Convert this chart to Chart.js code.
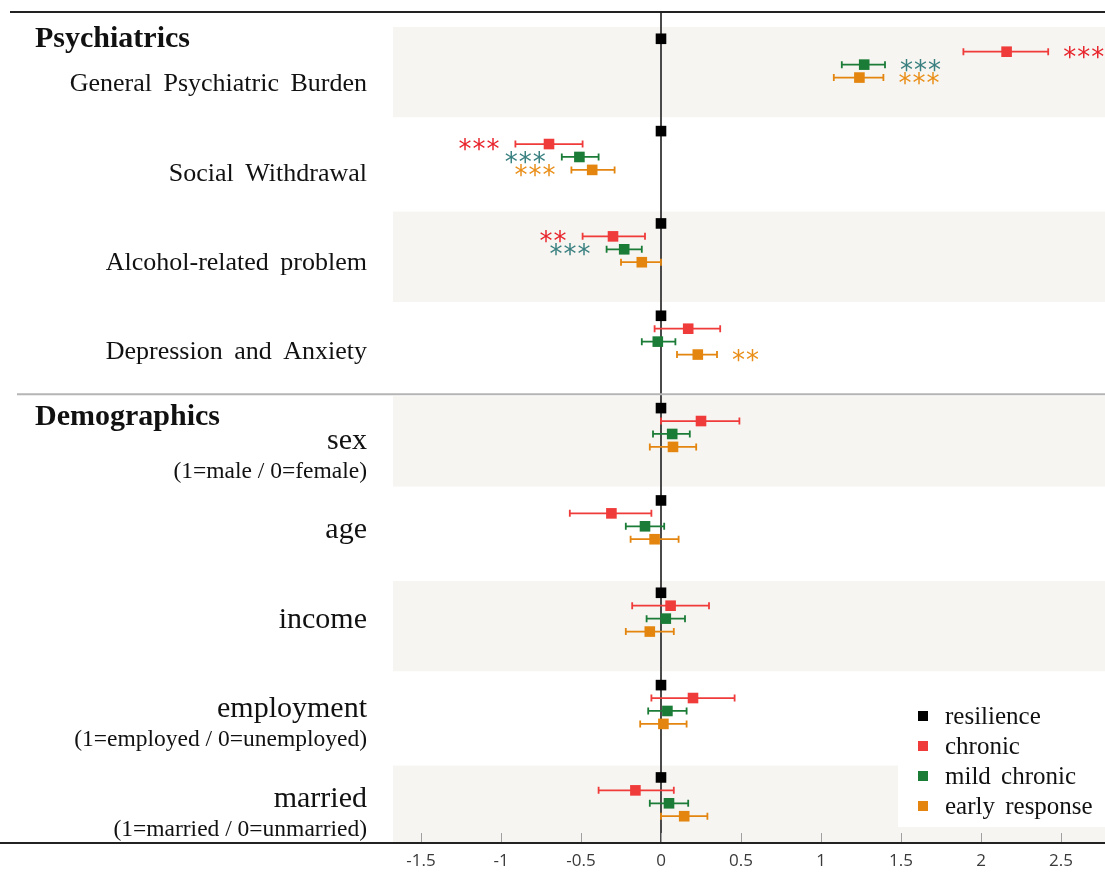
<!DOCTYPE html>
<html>
<head>
<meta charset="utf-8">
<title>Forest plot</title>
<script src="https://cdn.jsdelivr.net/npm/chart.js@4.4.1/dist/chart.umd.min.js"></script>
<style>
  body { margin: 0; background: #fff; }
  #wrap { width: 1105px; height: 874px; position: relative; }
</style>
</head>
<body>
<div id="wrap"><canvas id="forest"></canvas></div>
<script>
// rows, top to bottom
var categories = ["General Psychiatric Burden", "Social Withdrawal", "Alcohol-related problem", "Depression and Anxiety",
                  "sex", "age", "income", "employment", "married"];
var subLabels = ["", "", "", "", "(1=male / 0=female)", "", "", "(1=employed / 0=unemployed)", "(1=married / 0=unmarried)"];
var sections = ["Psychiatrics", "Demographics"];
var groups = ["resilience", "chronic", "mild chronic", "early response"];
var xTicks = [-1.5, -1, -0.5, 0, 0.5, 1, 1.5, 2, 2.5];

// resilience is the reference group
var resilience = [0, 0, 0, 0, 0, 0, 0, 0, 0];

var chronic     = [2.16, -0.70, -0.30, 0.17, 0.25, -0.31, 0.06, 0.20, -0.16];
var chronicLow  = [1.89, -0.91, -0.49, -0.04, 0.00, -0.57, -0.18, -0.06, -0.39];
var chronicHigh = [2.42, -0.49, -0.10, 0.37, 0.49, -0.06, 0.30, 0.46, 0.08];
var chronicStars = ["***", "***", "**", "", "", "", "", "", ""];

var mild     = [1.27, -0.51, -0.23, -0.02, 0.07, -0.10, 0.03, 0.04, 0.05];
var mildLow  = [1.13, -0.62, -0.34, -0.12, -0.05, -0.22, -0.09, -0.08, -0.07];
var mildHigh = [1.40, -0.39, -0.12, 0.09, 0.18, 0.02, 0.15, 0.16, 0.17];
var mildStars = ["***", "***", "***", "", "", "", "", "", ""];

var early     = [1.24, -0.43, -0.12, 0.23, 0.075, -0.04, -0.07, 0.015, 0.145];
var earlyLow  = [1.08, -0.56, -0.25, 0.10, -0.07, -0.19, -0.22, -0.13, 0.00];
var earlyHigh = [1.39, -0.29, 0.00, 0.35, 0.22, 0.11, 0.08, 0.16, 0.29];
var earlyStars = ["***", "***", "", "**", "", "", "", "", ""];

var colors = ["#000000", "#f03b3b", "#1b7c37", "#e3850f"];
var starColors = ["#000000", "#e8232b", "#3a8080", "#e98e18"];
var rowOffset = [-0.21, -0.07, 0.07, 0.21];   // vertical spread of the 4 groups inside a row

var series = [
    { est: resilience, low: null, high: null, stars: null },
    { est: chronic, low: chronicLow, high: chronicHigh, stars: chronicStars },
    { est: mild, low: mildLow, high: mildHigh, stars: mildStars },
    { est: early, low: earlyLow, high: earlyHigh, stars: earlyStars }
];

var serif = "'Liberation Serif', 'Times New Roman', serif";
var bandShift = 0.14;

var forestPlugin = {
    id: 'forest',
    beforeDraw: function(chart) {
        var ctx = chart.ctx, area = chart.chartArea, y = chart.scales.y;
        ctx.save();
        ctx.fillStyle = '#f6f5f1';
        for (var i = 0; i < categories.length; i += 2) {
            var top = y.getPixelForValue(i - 0.5 + bandShift);
            var bottom = y.getPixelForValue(i + 0.5 + bandShift);
            top = Math.max(top + 2, area.top + 5);
            bottom = Math.min(bottom, area.bottom);
            ctx.fillRect(area.left, top, chart.width - area.left, bottom - top);
        }
        ctx.restore();
    },
    beforeDatasetsDraw: function(chart) {
        var ctx = chart.ctx, x = chart.scales.x, y = chart.scales.y;
        ctx.save();
        ctx.lineWidth = 1.8;
        for (var s = 1; s < series.length; s++) {
            ctx.strokeStyle = colors[s];
            for (var i = 0; i < categories.length; i++) {
                var py = y.getPixelForValue(i + rowOffset[s]);
                var x1 = x.getPixelForValue(series[s].low[i]);
                var x2 = x.getPixelForValue(series[s].high[i]);
                ctx.beginPath();
                ctx.moveTo(x1, py); ctx.lineTo(x2, py);
                ctx.moveTo(x1, py - 3.5); ctx.lineTo(x1, py + 3.5);
                ctx.moveTo(x2, py - 3.5); ctx.lineTo(x2, py + 3.5);
                ctx.stroke();
            }
        }
        ctx.restore();
    },
    afterDraw: function(chart) {
        var ctx = chart.ctx, area = chart.chartArea, x = chart.scales.x, y = chart.scales.y;
        ctx.save();

        // frame lines
        ctx.strokeStyle = '#222';
        ctx.lineWidth = 2;
        ctx.beginPath();
        ctx.moveTo(10, area.top); ctx.lineTo(chart.width, area.top);
        ctx.moveTo(0, area.bottom); ctx.lineTo(chart.width, area.bottom);
        ctx.stroke();
        var sepY = y.getPixelForValue(3.5 + bandShift);
        ctx.strokeStyle = '#b5b5b5';
        ctx.beginPath();
        ctx.moveTo(17, sepY); ctx.lineTo(chart.width, sepY);
        ctx.stroke();

        // inward tick marks
        ctx.strokeStyle = '#a0a0a0';
        ctx.lineWidth = 1;
        ctx.beginPath();
        xTicks.forEach(function(v) {
            var px = Math.round(x.getPixelForValue(v)) + 0.5;
            ctx.moveTo(px, area.bottom - 1); ctx.lineTo(px, area.bottom - 10);
        });
        ctx.stroke();

        // significance stars
        ctx.font = "26px 'DejaVu Sans'";
        ctx.letterSpacing = '1px';
        ctx.textBaseline = 'alphabetic';
        for (var s = 1; s < series.length; s++) {
            ctx.fillStyle = starColors[s];
            for (var i = 0; i < categories.length; i++) {
                var st = series[s].stars[i];
                if (!st) continue;
                var py = y.getPixelForValue(i + rowOffset[s]) + 14;
                if (series[s].est[i] > 0) {
                    ctx.textAlign = 'left';
                    ctx.fillText(st, x.getPixelForValue(series[s].high[i]) + 15, py);
                } else {
                    ctx.textAlign = 'right';
                    ctx.fillText(st, x.getPixelForValue(series[s].low[i]) - 15, py);
                }
            }
        }
        ctx.letterSpacing = '0px';

        // row labels
        ctx.fillStyle = '#111';
        ctx.textAlign = 'right';
        for (var i = 0; i < categories.length; i++) {
            var base = y.getPixelForValue(i) + 33 - 2.9 * i;
            if (i < 4) {
                ctx.font = '26px ' + serif;
                ctx.wordSpacing = '5px';
            } else {
                ctx.font = '30px ' + serif;
                ctx.wordSpacing = '0px';
            }
            ctx.fillText(categories[i], 367, base);
            if (subLabels[i]) {
                ctx.font = '23.5px ' + serif;
                ctx.wordSpacing = '0px';
                ctx.fillText(subLabels[i], 367, base + 29);
            }
        }
        ctx.wordSpacing = '0px';

        // section headers
        ctx.textAlign = 'left';
        ctx.font = 'bold 30px ' + serif;
        ctx.fillText(sections[0], 35, area.top + 35);
        ctx.fillText(sections[1], 35, sepY + 31);

        // legend
        var lx = area.right - 207, ly = area.bottom - 146;
        ctx.fillStyle = '#ffffff';
        ctx.fillRect(lx, ly, chart.width - lx, 130);
        ctx.font = '25px ' + serif;
        ctx.wordSpacing = '4px';
        for (var g = 0; g < groups.length; g++) {
            var cy = ly + 19 + g * 30;
            ctx.fillStyle = colors[g];
            ctx.fillRect(lx + 20, cy - 5, 10, 10);
            ctx.fillStyle = '#111';
            ctx.fillText(groups[g], lx + 47, cy + 8);
        }
        ctx.restore();
    }
};

var datasets = series.map(function(s, k) {
    return {
        label: groups[k],
        data: s.est.map(function(v, i) { return { x: v, y: i + rowOffset[k] }; }),
        backgroundColor: colors[k],
        borderWidth: 0,
        pointStyle: 'rect',
        pointRadius: 7.5
    };
});

var forestChart = new Chart(document.getElementById('forest').getContext('2d'), {
    type: 'scatter',
    data: { datasets: datasets },
    options: {
        responsive: true,
        maintainAspectRatio: false,
        animation: false,
        events: [],
        layout: { autoPadding: false, padding: { left: 393, top: 12, right: 0, bottom: 2 } },
        plugins: {
            legend: { display: false },
            tooltip: { enabled: false }
        },
        scales: {
            x: {
                type: 'linear',
                min: -1.675,
                max: 2.775,
                afterBuildTicks: function(scale) {
                    scale.ticks = xTicks.map(function(v) { return { value: v }; });
                },
                afterFit: function(scale) {
                    scale.height = 29;
                },
                border: { display: false },
                grid: {
                    drawTicks: false,
                    lineWidth: 2,
                    color: function(c) { return c.tick && c.tick.value === 0 ? '#4a4a4a' : 'rgba(0,0,0,0)'; }
                },
                ticks: {
                    padding: 8,
                    autoSkip: false,
                    maxRotation: 0,
                    color: '#3a3a3a',
                    font: { family: "'Open Sans', sans-serif", size: 17 },
                    callback: function(v) { return String(v); }
                }
            },
            y: {
                type: 'linear',
                reverse: true,
                min: -0.5,
                max: 8.5,
                display: false
            }
        }
    },
    plugins: [forestPlugin]
});
</script>
</body>
</html>
